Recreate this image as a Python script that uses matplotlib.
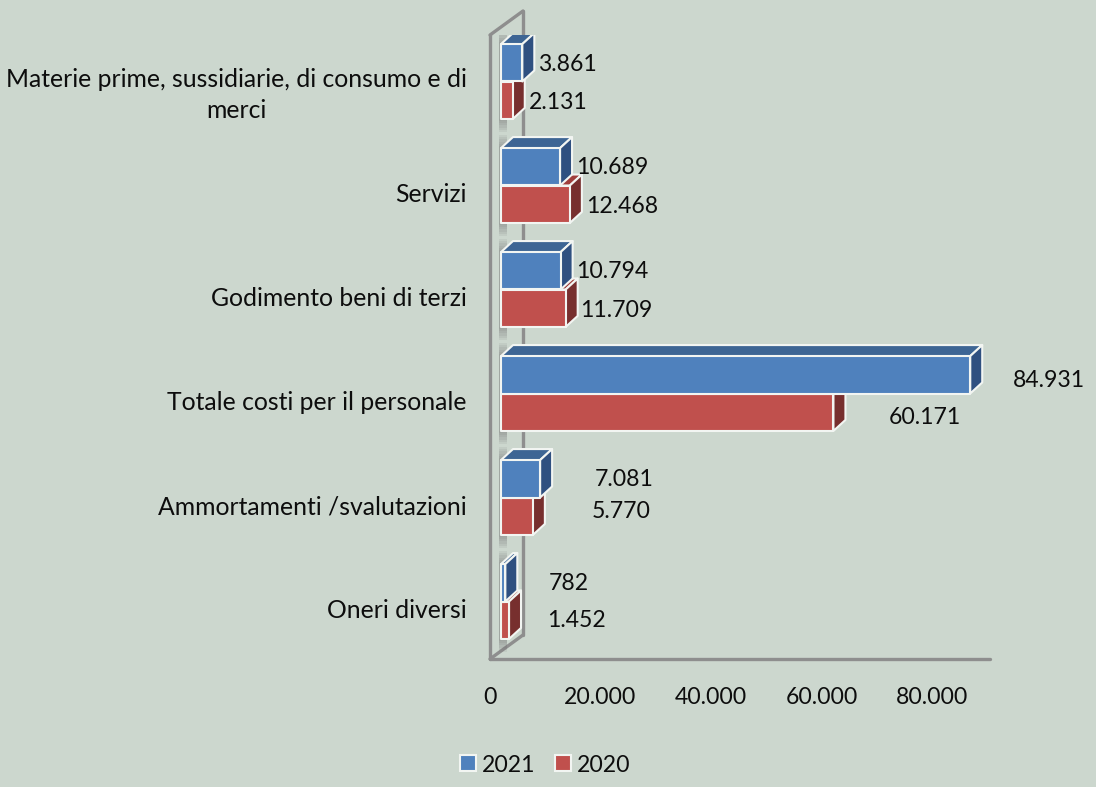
import matplotlib
matplotlib.use("Agg")
import matplotlib.pyplot as plt
from matplotlib.patches import Polygon, Rectangle
from matplotlib.transforms import Affine2D

categories = [
    "Materie prime, sussidiarie, di consumo e di\nmerci",
    "Servizi",
    "Godimento beni di terzi",
    "Totale costi per il personale",
    "Ammortamenti /svalutazioni",
    "Oneri diversi",
]
values_2021 = [3861, 10689, 10794, 84931, 7081, 782]
values_2020 = [2131, 12468, 11709, 60171, 5770, 1452]
x_ticks = [0, 20000, 40000, 60000, 80000]

# label offsets from the bar tip, in pixels (the original has them hand placed)
offsets_2021 = [(45, -2), (52, -1), (52, -1), (79, -6), (84.5, -1), (63, -1)]
offsets_2020 = [(45, -2), (52, -2), (51, -2), (91, -5), (88, 5), (67.5, 0)]

BG = "#CCD7CE"
FONT = "Lato"
FS = 16.6
FS_CAT = 17.8
INK = "#0D0D0D"
W, H = 1096, 787
WALL = "#8E8E8E"


def dotted(v):
    return f"{v:,}".replace(",", ".")


plt.rcParams["font.family"] = FONT
fig = plt.figure(figsize=(W / 100, H / 100), dpi=100, facecolor=BG)
ax = fig.add_axes([490 / W, 1 - 659 / H, 500 / W, 624 / H])
ax.set_facecolor("none")
ax.set_xlim(0, 90498)
ax.set_ylim(5.5, -0.5)

# data units for one pixel
dx = 90498 / 500
dy = 6 / 624


def bar3d(y, v, front, top, side, label=None):
    left = 11 * dx
    y_c = y - 5.5 * dy
    d_x, d_y = 12 * dx, 11 * dy
    y0, y1 = y_c - 0.18, y_c + 0.18
    x1 = left + v
    edge = dict(edgecolor="#F2F5F2", linewidth=1.5, joinstyle="round")
    ax.add_patch(Polygon([(left, y0), (x1, y0), (x1 + d_x, y0 - d_y), (left + d_x, y0 - d_y)],
                         facecolor=top, zorder=3, **edge))
    ax.add_patch(Polygon([(x1, y0), (x1, y1), (x1 + d_x, y1 - d_y), (x1 + d_x, y0 - d_y)],
                         facecolor=side, zorder=3, **edge))
    return ax.barh(y_c, v, height=0.36, left=left, color=front, label=label, zorder=3, **edge)


def walls():
    depth_x, depth_y = 33 * dx, 24 * dy
    style = dict(color=WALL, lw=2.4, clip_on=False, solid_capstyle="round", zorder=0.5)
    ax.plot([0, 0], [5.5, -0.5], **style)
    ax.plot([0, depth_x], [-0.5, -0.5 - depth_y], **style)
    ax.plot([depth_x, depth_x], [-0.5 - depth_y, 5.5 - depth_y], **style)
    ax.plot([0, depth_x], [5.5, 5.5 - depth_y], **style)
    ax.plot([0, 90498], [5.5, 5.5], **style)


def shadow(i):
    # soft shadow the bars throw on the back wall, stacked thin strips
    y_c = i - 5.5 * dy
    for k in range(6):
        grow = (13 - 2.2 * k) * dy
        ax.add_patch(Rectangle((9 * dx, y_c - 0.36 - grow), 8 * dx, 0.72 + 2 * grow,
                               facecolor="#707070", edgecolor="none", alpha=0.10, zorder=1))


walls()

h21 = h20 = None
for i in range(len(categories)):
    shadow(i)
    h20 = bar3d(i + 0.18, values_2020[i], "#C0504D", "#A03F3C", "#772F2E", "2020")
    h21 = bar3d(i - 0.18, values_2021[i], "#4F81BD", "#3D6594", "#2F5080", "2021")

for i in range(len(categories)):
    tip_x = 11 * dx
    y_c = i - 5.5 * dy
    ax.annotate(dotted(values_2021[i]), (tip_x + values_2021[i], y_c - 0.18),
                xytext=offsets_2021[i], textcoords="offset pixels",
                ha="center", va="center", fontsize=FS, color=INK, zorder=5)
    ax.annotate(dotted(values_2020[i]), (tip_x + values_2020[i], y_c + 0.18),
                xytext=offsets_2020[i], textcoords="offset pixels",
                ha="center", va="center", fontsize=FS, color=INK, zorder=5)

for s in ax.spines.values():
    s.set_visible(False)
ax.set_xticks(x_ticks)
ax.set_xticklabels([dotted(t) for t in x_ticks], fontsize=FS, color=INK)
ax.set_yticks(range(len(categories)))
ax.set_yticklabels(categories, fontsize=FS_CAT, color=INK, multialignment="center", linespacing=1.4)
ax.tick_params(axis="x", length=0, pad=20)
ax.tick_params(axis="y", length=0, pad=17)
for lab in ax.get_yticklabels():
    lab.set_transform(lab.get_transform() + Affine2D().translate(0, -2))

fig.legend(handles=[h21, h20], labels=["2021", "2020"], ncol=2, frameon=False,
           loc="center", bbox_to_anchor=(545 / W, 1 - 765 / H), fontsize=FS, labelcolor=INK,
           handlelength=0.68, handleheight=0.68, handletextpad=0.26, columnspacing=0.86)

fig.savefig("out.png", dpi=100, facecolor=BG)
plt.close(fig)
